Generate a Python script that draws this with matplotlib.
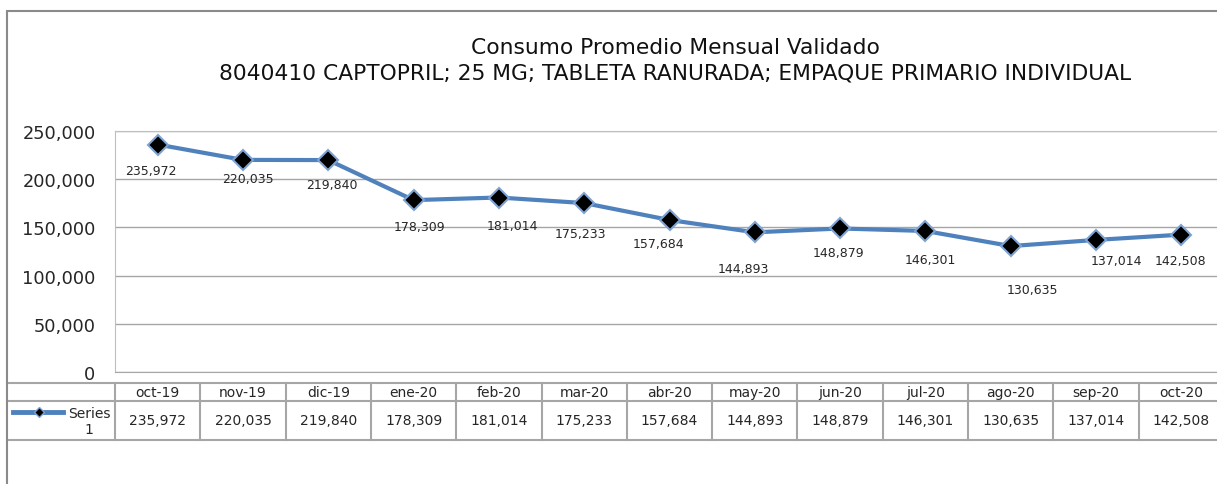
import matplotlib.pyplot as plt
from matplotlib.lines import Line2D
from matplotlib.patches import Rectangle
from matplotlib.ticker import FuncFormatter

# data
months = ["oct-19", "nov-19", "dic-19", "ene-20", "feb-20", "mar-20", "abr-20",
          "may-20", "jun-20", "jul-20", "ago-20", "sep-20", "oct-20"]
consumo = [235972, 220035, 219840, 178309, 181014, 175233, 157684,
           144893, 148879, 146301, 130635, 137014, 142508]
series_name = "Series\n1"
title1 = "Consumo Promedio Mensual Validado"
title2 = "8040410 CAPTOPRIL; 25 MG; TABLETA RANURADA; EMPAQUE PRIMARIO INDIVIDUAL"

# label offsets in pixels (dx, dy downward), as placed in the original
label_offsets = [(-7, 26), (5, 19), (4, 24), (6, 26), (14, 28), (-4, 30), (-11, 24),
                 (-11, 36), (-2, 24), (5, 29), (22, 43), (20, 21), (-1, 26)]

W, H = 1217, 485
fx = lambda x: x / W
fy = lambda y: 1 - y / H

line_col = "#4F81BD"
grid_col = "#A6A6A6"
txt_col = "#262626"
fmt = lambda v: f"{v:,.0f}"

plt.rcParams["font.family"] = "DejaVu Sans"
fig = plt.figure(figsize=(W / 100, H / 100), dpi=100)

# outer chart frame (cut at right and bottom)
fig.add_artist(Rectangle((fx(7), -0.2), 1.5, fy(12) + 0.2, transform=fig.transFigure,
                         fill=False, ec="#8A8A8A", lw=1.5))

# titles
fig.text(fx(675), fy(48), title1, ha="center", va="center", fontsize=15.7, color="#111")
fig.text(fx(675), fy(73), title2, ha="center", va="center", fontsize=15.7, color="#111")

# main plot area
x0, x1, ytop, ybot = 115, 1224, 132, 373
ax = fig.add_axes([fx(x0), fy(ybot), (x1 - x0) / W, (ybot - ytop) / H])
xs = list(range(len(months)))
ax.plot(xs, consumo, color=line_col, lw=3, marker="D", markersize=10,
        mfc="black", mec="#7EA3D3", mew=1.5, zorder=3)
for x, v, (dx, dy) in zip(xs, consumo, label_offsets):
    ax.annotate(fmt(v), (x, v), xytext=(dx, -dy), textcoords="offset pixels",
                ha="center", va="center", fontsize=9, color=txt_col)

ax.set_xlim(-0.5, len(months) - 0.5)
ax.set_ylim(0, 250000)
ax.set_yticks(range(0, 250001, 50000))
ax.yaxis.set_major_formatter(FuncFormatter(lambda v, p: fmt(v)))
ax.set_xticks([])
ax.tick_params(axis="y", length=0, pad=14, labelsize=12.8, labelcolor=txt_col)
ax.grid(axis="y", color=grid_col, lw=1)
ax.set_axisbelow(True)
for s in ["left", "top", "right"]:
    ax.spines[s].set_color("#BFBFBF")
ax.spines["bottom"].set_color(grid_col)

# data table under the chart
t_top, t_mid, t_bot = 384, 402, 441
tax = fig.add_axes([fx(x0), fy(t_bot), (x1 - x0) / W, (t_bot - t_top) / H])
tax.set_xlim(-0.5, len(months) - 0.5)
tax.set_ylim(0, t_bot - t_top)
tax.axis("off")
cell_w = (x1 - x0) / len(months)
x_left = -0.5 - (x0 - 7) / cell_w
tcol = "#A6A6A6"
for yy in [0, t_bot - t_mid, t_bot - t_top]:
    tax.plot([x_left, len(months) - 0.5], [yy, yy], color=tcol, lw=1.5, clip_on=False)
for i in range(len(months) + 1):
    tax.plot([i - 0.5, i - 0.5], [0, t_bot - t_top], color=tcol, lw=1.5, clip_on=False)
for x, m, v in zip(xs, months, consumo):
    tax.text(x, (t_bot - t_mid) + (t_mid - t_top) / 2, m, ha="center", va="center",
             fontsize=10, color=txt_col)
    tax.text(x, (t_bot - t_mid) / 2, fmt(v), ha="center", va="center",
             fontsize=10, color=txt_col)

# legend key inside the table
fig.add_artist(Line2D([fx(13), fx(63)], [fy(413), fy(413)], transform=fig.transFigure,
                      color=line_col, lw=3.5))
fig.add_artist(Line2D([fx(39)], [fy(413)], transform=fig.transFigure, marker="D",
                      markersize=5, mfc="black", mec="#7EA3D3", mew=1))
fig.text(fx(89), fy(422), series_name, ha="center", va="center", fontsize=10,
         color=txt_col, linespacing=1.25)

fig.savefig("out.png", dpi=100)
